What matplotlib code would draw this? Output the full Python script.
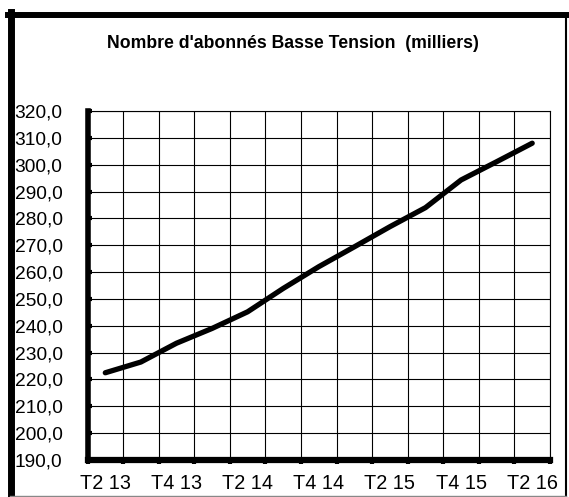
import numpy as np
import matplotlib.pyplot as plt
from matplotlib.lines import Line2D

plt.rcParams['font.family'] = ['Liberation Sans', 'DejaVu Sans']

# abonnés BT par trimestre (milliers)
trimestres = ['T2 13', 'T3 13', 'T4 13', 'T1 14', 'T2 14', 'T3 14', 'T4 14',
              'T1 15', 'T2 15', 'T3 15', 'T4 15', 'T1 16', 'T2 16']
abonnes = [222.5, 226.5, 233.5, 239.0, 245.2, 253.9, 262.0,
           269.4, 276.9, 284.0, 294.3, 301.1, 308.0]
yticks = np.arange(190, 321, 10)

fig = plt.figure(figsize=(5.69, 4.97), dpi=100)
ax = fig.add_axes([0.1538, 0.0744, 0.8128, 0.7023])

x = np.arange(len(trimestres))
ax.plot(x, abonnes, color='black', lw=3.8, solid_capstyle='round',
        solid_joinstyle='round', zorder=3)

ax.set_xlim(-0.5, len(trimestres) - 0.5)
ax.set_ylim(190, 320)

ax.set_yticks(yticks)
ax.set_yticklabels([('%.1f' % v).replace('.', ',') for v in yticks], fontsize=13.8)
ax.set_xticks(x[::2])
ax.set_xticklabels(trimestres[::2], fontsize=14.3)
ax.set_xticks(np.arange(-0.5, len(trimestres), 1), minor=True)

ax.tick_params(axis='x', which='major', length=0, pad=10)
ax.tick_params(axis='x', which='minor', direction='out', length=3, width=3)
ax.tick_params(axis='y', direction='in', length=3, width=3, pad=18)

ax.grid(True, which='minor', axis='x', color='black', lw=0.8)
ax.grid(True, which='major', axis='y', color='black', lw=0.8)
ax.set_axisbelow(True)

for side in ['top', 'right']:
    ax.spines[side].set_linewidth(0.8)
ax.spines['left'].set_linewidth(4)
ax.spines['bottom'].set_linewidth(4.5)

fig.text(0.514, 0.9125, "Nombre d'abonnés Basse Tension  (milliers)",
         ha='center', va='center', fontsize=12.7, fontweight='bold')

# cadre autour du graphique
W, H = 569, 497
def fx(px):
    return px / W
def fy(py):
    return 1 - py / H
fig.add_artist(Line2D([fx(10.5), fx(10.5)], [fy(12), fy(497)], color='black', lw=5))
fig.add_artist(Line2D([fx(8), fx(567)], [fy(15), fy(15)], color='black', lw=4.3))
fig.add_artist(Line2D([fx(566), fx(566)], [fy(15), fy(496)], color='black', lw=1.5))
fig.add_artist(Line2D([fx(10), fx(566)], [fy(496), fy(496)], color='#888888', lw=1))

fig.savefig('out.png', dpi=100)
